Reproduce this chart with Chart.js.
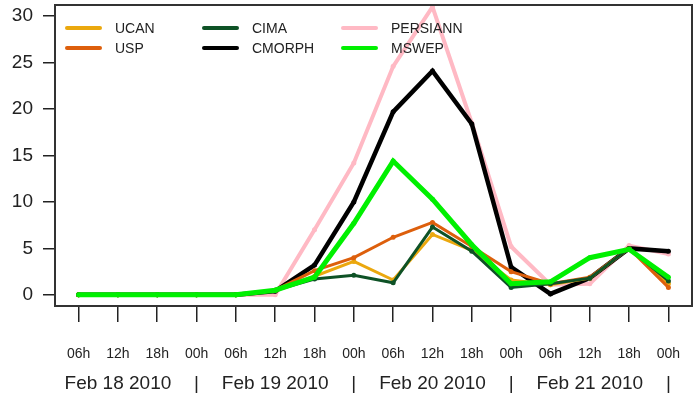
<!DOCTYPE html>
<html>
<head>
<meta charset="utf-8">
<script src="https://cdn.jsdelivr.net/npm/chart.js@4/dist/chart.umd.min.js"></script>
<style>
  html, body { margin: 0; padding: 0; background: #fff; }
  #wrap { width: 697px; height: 394px; position: relative; }
</style>
</head>
<body>
<div id="wrap"><canvas id="rainChart"></canvas></div>
<script>
// Etiquetas del eje x (cada 6 horas) y fechas
const hourLabels = ['06h', '12h', '18h', '00h', '06h', '12h', '18h', '00h',
                    '06h', '12h', '18h', '00h', '06h', '12h', '18h', '00h'];
const dateLabels = ['Feb 18 2010', '|', 'Feb 19 2010', '|', 'Feb 20 2010', '|', 'Feb 21 2010', '|'];
const yTicks = [0, 5, 10, 15, 20, 25, 30];

// Series (mm)
const ucan     = [0, 0, 0, 0, 0, 0.5, 2.0, 3.6, 1.6, 6.5, 4.8, 1.6, 1.1, 1.8, 5.0, 1.2];
const usp      = [0, 0, 0, 0, 0, 0.5, 2.6, 4.0, 6.2, 7.8, 5.2, 2.5, 1.2, 1.9, 5.0, 0.8];
const cima     = [0, 0, 0, 0, 0, 0.5, 1.7, 2.1, 1.3, 7.3, 4.7, 0.8, 1.2, 1.8, 5.0, 1.5];
const cmorph   = [0, 0, 0, 0, 0, 0.4, 3.2, 10.0, 19.7, 24.1, 18.4, 3.0, 0.1, 1.8, 5.0, 4.7];
const persiann = [0, 0, 0, 0, 0, 0, 7.0, 14.2, 24.6, 31.0, 18.5, 5.2, 1.1, 1.2, 5.3, 4.4];
const mswep    = [0, 0, 0, 0, 0, 0.5, 1.9, 7.7, 14.4, 10.3, 5.4, 1.2, 1.4, 4.0, 4.9, 1.9];

const textColor = '#222';
const axisColor = '#222';

function toPoints(arr) {
    return arr.map((v, i) => ({ x: i, y: v }));
}

function makeSet(label, values, color, width, order) {
    return {
        label: label,
        data: toPoints(values),
        borderColor: color,
        backgroundColor: color,
        borderWidth: width,
        pointRadius: 2.5,
        pointBorderWidth: 0,
        pointHoverRadius: 2.5,
        tension: 0,
        order: order
    };
}

const datasets = [
    makeSet('UCAN', ucan, '#EBA80E', 3, 3),
    makeSet('USP', usp, '#DD5F0C', 3, 2),
    makeSet('CIMA', cima, '#0E5226', 3, 1),
    makeSet('CMORPH', cmorph, '#000000', 4.5, 4),
    makeSet('PERSIANN', persiann, '#FFB9C4', 4, 5),
    makeSet('MSWEP', mswep, '#00F000', 5, 0)
];

// Leyenda en 3 columnas x 2 filas, dentro del área del gráfico (estilo R)
const legendCols = [['UCAN', 'USP'], ['CIMA', 'CMORPH'], ['PERSIANN', 'MSWEP']];
const legendPlugin = {
    id: 'insideLegend',
    afterDatasetsDraw(chart) {
        const { ctx, chartArea } = chart;
        const colX = [12, 149, 288];
        const rowY = [23, 43];
        ctx.save();
        ctx.font = '14px "Liberation Sans", Arial, sans-serif';
        ctx.textBaseline = 'middle';
        legendCols.forEach((col, c) => {
            col.forEach((name, r) => {
                const ds = chart.data.datasets.find(d => d.label === name);
                const x = chartArea.left + colX[c];
                const y = chartArea.top + rowY[r];
                ctx.strokeStyle = ds.borderColor;
                ctx.lineWidth = 4;
                ctx.lineCap = 'round';
                ctx.beginPath();
                ctx.moveTo(x, y);
                ctx.lineTo(x + 33, y);
                ctx.stroke();
                ctx.fillStyle = textColor;
                ctx.fillText(name, x + 48, y + 1);
            });
        });
        ctx.restore();
    }
};

const boxPlugin = {
    id: 'plotBox',
    afterDatasetsDraw(chart) {
        const { ctx, chartArea } = chart;
        ctx.save();
        ctx.strokeStyle = '#333';
        ctx.lineWidth = 2;
        ctx.strokeRect(chartArea.left, chartArea.top,
            chartArea.right - chartArea.left, chartArea.bottom - chartArea.top);
        ctx.restore();
    }
};

Chart.defaults.font.family = '"Liberation Sans", Arial, sans-serif';
Chart.defaults.color = textColor;

const ctx = document.getElementById('rainChart').getContext('2d');
new Chart(ctx, {
    type: 'line',
    data: { datasets: datasets },
    options: {
        responsive: true,
        maintainAspectRatio: false,
        animation: false,
        layout: { padding: { top: 5, right: 5, left: 0, bottom: 0 } },
        plugins: {
            legend: { display: false },
            tooltip: { enabled: false }
        },
        scales: {
            x: {
                type: 'linear',
                position: 'bottom',
                min: -0.6,
                max: hourLabels.length - 1 + 0.6,
                afterBuildTicks: s => { s.ticks = hourLabels.map((_, i) => ({ value: i })); },
                afterFit: s => { s.height = 62; s.paddingLeft = 0; s.paddingRight = 0; },
                ticks: {
                    autoSkip: false,
                    maxRotation: 0,
                    padding: 24,
                    font: { size: 14 },
                    color: textColor,
                    callback: v => hourLabels[v]
                },
                grid: { drawOnChartArea: false, tickLength: 16, color: axisColor, lineWidth: 1.5 },
                border: { display: true, color: axisColor, width: 2 }
            },
            xDate: {
                type: 'linear',
                position: 'bottom',
                min: -0.6,
                max: hourLabels.length - 1 + 0.6,
                afterBuildTicks: s => { s.ticks = dateLabels.map((_, i) => ({ value: i * 2 + 1 })); },
                afterFit: s => { s.height = 26; s.paddingLeft = 0; s.paddingRight = 0; },
                ticks: {
                    autoSkip: false,
                    maxRotation: 0,
                    padding: 4,
                    font: { size: 19 },
                    color: textColor,
                    callback: v => dateLabels[(v - 1) / 2]
                },
                grid: { display: false, drawTicks: false },
                border: { display: false }
            },
            y: {
                type: 'linear',
                min: -1.2,
                max: 31.2,
                afterBuildTicks: s => { s.ticks = yTicks.map(v => ({ value: v })); },
                afterFit: s => { s.width = 55; s.paddingTop = 0; s.paddingBottom = 0; },
                ticks: {
                    padding: 10,
                    font: { size: 19 },
                    color: textColor
                },
                grid: { drawOnChartArea: false, tickLength: 12, color: axisColor, lineWidth: 1.5 },
                border: { display: true, color: axisColor, width: 2 }
            }
        }
    },
    plugins: [legendPlugin, boxPlugin]
});
</script>
</body>
</html>
